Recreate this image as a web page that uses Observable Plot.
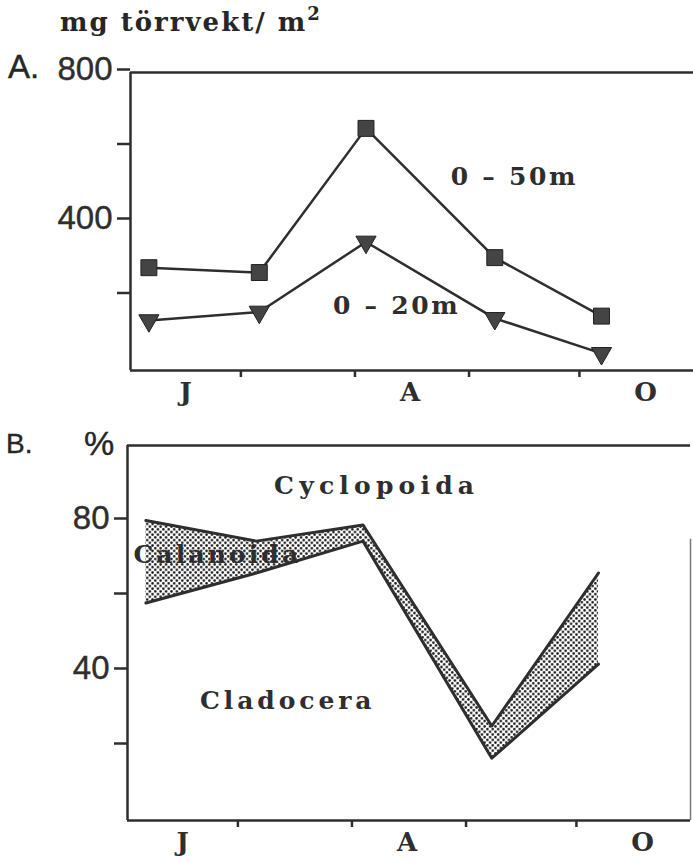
<!DOCTYPE html>
<html><head><meta charset="utf-8">
<script src="https://cdn.jsdelivr.net/npm/d3@7"></script>
<script src="https://cdn.jsdelivr.net/npm/@observablehq/plot@0.6"></script>
<style>
html,body{margin:0;padding:0;background:#fff;}
body{width:693px;height:862px;overflow:hidden;position:relative;}
#title{position:absolute;left:60px;top:4px;font:bold 26px "DejaVu Serif",serif;letter-spacing:2px;color:#262626;white-space:nowrap;}
#title sup{font-size:18px;position:relative;top:-1px;}
.panel{position:absolute;left:0;color:#262626;}
#a{top:45px;} #b{top:420px;}
.sans{position:absolute;font-family:"Liberation Sans",sans-serif;color:#262626;-webkit-text-stroke:0.4px #262626;}
#lblA{left:8px;top:48px;font-size:33px;}
#lblB{left:6px;top:428px;font-size:28px;}
#pct{left:84px;top:424px;font-size:34px;}
</style></head><body>
<div id="title">mg törrvekt/ m<sup>2</sup></div>
<div id="a" class="panel"></div>
<div id="b" class="panel"></div>
<div id="lblA" class="sans">A.</div>
<div id="lblB" class="sans">B.</div>
<div id="pct" class="sans">%</div>
<script>
// ---- data ----
const sampleDates = ["1985-06-06", "1985-07-06", "1985-08-04", "1985-09-08", "1985-10-07"];
const biomass0to50 = [276, 263, 650, 303, 146];   // mg dry weight / m2, 0-50 m
const biomass0to20 = [134, 157, 345, 140, 46];    // mg dry weight / m2, 0-20 m
const cladoceraPlusCalanoida = [80, 74.5, 78.8, 25.2, 66]; // % (upper boundary)
const cladoceraPct = [58, 66, 74.5, 16.6, 41.7];           // % (lower boundary)
const monthLabels = ["J", "A", "O"];
const monthLabelDates = ["1985-06-16", "1985-08-16", "1985-10-19"];
const monthTickDates = ["1985-07-01", "1985-08-01", "1985-09-01", "1985-10-01"];
const xDomain = ["1985-06-01", "1985-11-01"];
const yTicksA = [200, 400, 600, 800];
const yLabelsA = [400, 800];
const yTicksB = [20, 40, 60, 80];
const yLabelsB = [40, 80];
const seriesLabelsA = ["0 – 50m", "0 – 20m"];
const seriesLabelDatesA = ["1985-09-13", "1985-08-12"];
const seriesLabelValuesA = [520, 172];
const groupLabelsB = ["Cyclopoida", "Calanoida", "Cladocera"];
const groupLabelDatesB = ["1985-08-07", "1985-06-25", "1985-07-14"];
const groupLabelValuesB = [89.3, 70.7, 32];

// ---- tables ----
const P = s => new Date(s);
const tableA = sampleDates.map((d, i) => ({date: P(d), v50: biomass0to50[i], v20: biomass0to20[i]}));
const tableB = sampleDates.map((d, i) => ({date: P(d), upper: cladoceraPlusCalanoida[i], lower: cladoceraPct[i]}));
const months = monthLabels.map((m, i) => ({date: P(monthLabelDates[i]), label: m}));
const labA = seriesLabelsA.map((t, i) => ({date: P(seriesLabelDatesA[i]), y: seriesLabelValuesA[i], t}));
const labB = groupLabelsB.map((t, i) => ({date: P(groupLabelDatesB[i]), y: groupLabelValuesB[i], t}));
const ink = "#2e2e2e";
const serif = "DejaVu Serif";
const labelSpacing = {"Cyclopoida": 5.2, "Calanoida": 3.1, "Cladocera": 3.9, "0 – 50m": 2.7, "0 – 20m": 2.7};

const plotA = Plot.plot({
  width: 693, height: 375,
  marginLeft: 130, marginRight: 0, marginTop: 27, marginBottom: 50,
  style: {fontSize: "33px", fontFamily: "Liberation Sans", color: ink, background: "transparent"},
  x: {type: "utc", domain: xDomain.map(P)},
  y: {domain: [0, 800]},
  marks: [
    Plot.axisY({ticks: yTicksA, tickSize: 13, tickPadding: 5, strokeWidth: 2.5, label: null,
      tickFormat: d => yLabelsA.includes(d) ? d : "", dy: -3}),
    Plot.axisX({ticks: monthTickDates.map(P), tickSize: 7, strokeWidth: 2.5, tickFormat: () => "", label: null}),
    Plot.ruleY([0, 800], {stroke: ink, strokeWidth: 2.5}),
    Plot.ruleX([P(xDomain[0])], {stroke: ink, strokeWidth: 2.5}),
    Plot.text(months, {x: "date", text: "label", frameAnchor: "bottom", dy: 30, fontFamily: serif, fontWeight: "bold", fontSize: 26, fill: ink}),
    Plot.line(tableA, {x: "date", y: "v50", stroke: ink, strokeWidth: 2.5}),
    Plot.line(tableA, {x: "date", y: "v20", stroke: ink, strokeWidth: 2.5}),
    Plot.dot(tableA, {x: "date", y: "v50", symbol: "square", r: 9, fill: "#444", stroke: "#222", strokeWidth: 1}),
    Plot.dot(tableA, {x: "date", y: "v20", symbol: "triangle", rotate: 180, r: 7.5, fill: "#444", stroke: "#222", strokeWidth: 1}),
    Plot.text(labA, {x: "date", y: "y", text: "t", fontFamily: serif, fontWeight: "bold", fontSize: 25, fill: ink})
  ]
});
document.getElementById("a").append(plotA);

const plotB = Plot.plot({
  width: 693, height: 442,
  marginLeft: 127, marginRight: 3, marginTop: 25, marginBottom: 42,
  style: {fontSize: "33px", fontFamily: "Liberation Sans", color: ink, background: "transparent"},
  x: {type: "utc", domain: xDomain.map(P)},
  y: {domain: [0, 100]},
  marks: [
    Plot.areaY(tableB, {x: "date", y1: "lower", y2: "upper", fill: "url(#dots)"}),
    Plot.axisY({ticks: yTicksB, tickSize: 13, tickPadding: 5, strokeWidth: 2.5, label: null,
      tickFormat: d => yLabelsB.includes(d) ? d : "", dy: -2}),
    Plot.axisX({ticks: monthTickDates.map(P), tickSize: 7, strokeWidth: 2.5, tickFormat: () => "", label: null}),
    Plot.ruleY([0, 100], {stroke: ink, strokeWidth: 2.5}),
    Plot.ruleX([P(xDomain[0])], {stroke: ink, strokeWidth: 2.5}),
    Plot.ruleX([P(xDomain[1])], {y1: 0, y2: 75, stroke: "#777", strokeWidth: 1.5}),
    Plot.text(months, {x: "date", text: "label", frameAnchor: "bottom", dy: 30, fontFamily: serif, fontWeight: "bold", fontSize: 26, fill: ink}),
    Plot.line(tableB, {x: "date", y: "upper", stroke: ink, strokeWidth: 3}),
    Plot.line(tableB, {x: "date", y: "lower", stroke: ink, strokeWidth: 3}),
    Plot.text(labB, {x: "date", y: "y", text: "t", fontFamily: serif, fontWeight: "bold", fontSize: 25, fill: ink})
  ]
});
d3.select(plotB).insert("defs", ":first-child").html(
  '<pattern id="dots" width="5.4" height="5.4" patternUnits="userSpaceOnUse">' +
  '<circle cx="1.35" cy="1.35" r="1.3" fill="#1a1a1a"/><circle cx="4.05" cy="4.05" r="1.3" fill="#1a1a1a"/></pattern>');
document.getElementById("b").append(plotB);

// letter spacing of the printed labels (no Plot text option for it in 0.6)
for (const svg of [plotA, plotB]) {
  d3.select(svg).selectAll("text").each(function () {
    const s = labelSpacing[this.textContent];
    if (s != null) {
      this.setAttribute("letter-spacing", s);
      this.style.letterSpacing = s + "px";
      this.setAttribute("dx", s / 2); // keep the visible text centred despite trailing spacing
    }
  });
  d3.select(svg).selectAll('g[aria-label="y-axis tick label"] text').attr("stroke", ink).attr("stroke-width", 0.4);
}
</script>
</body></html>
